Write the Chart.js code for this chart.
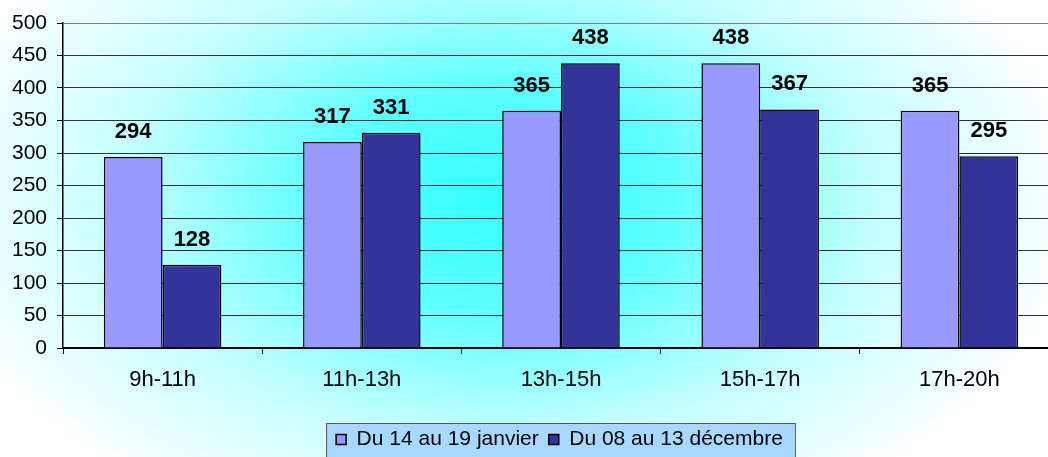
<!DOCTYPE html>
<html>
<head>
<meta charset="utf-8">
<script src="https://cdn.jsdelivr.net/npm/chart.js@4.4.1/dist/chart.umd.min.js"></script>
<style>
  html, body { margin: 0; padding: 0; background: #ffffff; overflow: hidden; }
  #wrap { width: 1048px; height: 457px; overflow: hidden; }
</style>
</head>
<body>
<div id="wrap"><canvas id="horaireChart" width="1108" height="457"></canvas></div>
<script>
const categories = ['9h-11h', '11h-13h', '13h-15h', '15h-17h', '17h-20h'];
const seriesNames = ['Du 14 au 19 janvier', 'Du 08 au 13 décembre'];
const janvier = [294, 317, 365, 438, 365];
const decembre = [128, 331, 438, 367, 295];

const FONT = 'Arial, "Liberation Sans", sans-serif';

// fond dégradé + cadre de la légende
const fondPlugin = {
    id: 'fond',
    afterLayout(chart) {
        // la légende est décalée vers la droite dans l'original
        const lg = chart.legend;
        if (lg) {
            lg.left += 30;
            lg.right += 30;
            lg.top += 3;
            lg.bottom += 3;
        }
    },
    beforeDraw(chart) {
        const ctx = chart.ctx;
        const w = chart.width, h = chart.height;
        ctx.save();
        ctx.fillStyle = '#ffffff';
        ctx.fillRect(0, 0, w, h);
        ctx.translate(500, 200);
        ctx.scale(1, 0.62);
        const g = ctx.createRadialGradient(0, 0, 0, 0, 0, 580);
        g.addColorStop(0, '#33ffff');
        g.addColorStop(0.3, '#5cffff');
        g.addColorStop(0.65, '#c4ffff');
        g.addColorStop(1, '#ffffff');
        ctx.fillStyle = g;
        ctx.fillRect(-800, -800, 1600, 1600);
        ctx.restore();

        const boxes = chart.legend && chart.legend.legendHitBoxes;
        if (boxes && boxes.length) {
            const left = Math.min(...boxes.map(b => b.left)) - 10;
            const right = Math.max(...boxes.map(b => b.left + b.width)) + 12;
            const top = Math.min(...boxes.map(b => b.top)) - 6;
            ctx.save();
            ctx.fillStyle = '#a8d8ff';
            ctx.strokeStyle = '#555555';
            ctx.lineWidth = 1;
            ctx.fillRect(left, top, right - left, h - top + 5);
            ctx.strokeRect(left + 0.5, top + 0.5, right - left, h - top + 5);
            ctx.restore();
        }
    }
};

// valeurs au-dessus des barres
const etiquettesPlugin = {
    id: 'etiquettes',
    afterDatasetsDraw(chart) {
        const ctx = chart.ctx;
        ctx.save();
        ctx.font = 'bold 22px ' + FONT;
        ctx.fillStyle = '#000000';
        ctx.textAlign = 'center';
        ctx.textBaseline = 'alphabetic';
        chart.data.datasets.forEach((ds, i) => {
            chart.getDatasetMeta(i).data.forEach((bar, j) => {
                ctx.fillText(String(ds.data[j]), bar.x, bar.y - 19);
            });
        });
        ctx.restore();
    }
};

const ctx = document.getElementById('horaireChart').getContext('2d');

new Chart(ctx, {
    type: 'bar',
    data: {
        labels: categories,
        datasets: [
            {
                label: seriesNames[0],
                data: janvier,
                backgroundColor: '#9999ff',
                borderColor: '#000000',
                borderWidth: 1.5,
                categoryPercentage: 0.59,
                barPercentage: 1.0
            },
            {
                label: seriesNames[1],
                data: decembre,
                backgroundColor: '#333399',
                borderColor: '#000000',
                borderWidth: 1.5,
                categoryPercentage: 0.59,
                barPercentage: 1.0
            }
        ]
    },
    options: {
        responsive: false,
        animation: false,
        layout: { padding: { top: 23, right: 49, left: 0, bottom: 0 } },
        plugins: {
            legend: {
                position: 'bottom',
                labels: {
                    font: { family: FONT, size: 21 },
                    color: '#000000',
                    boxWidth: 10,
                    boxHeight: 10,
                    padding: 10
                }
            },
            tooltip: { enabled: false }
        },
        scales: {
            x: {
                grid: {
                    display: true,
                    drawOnChartArea: false,
                    drawTicks: true,
                    tickLength: 6,
                    color: '#000000',
                    offset: true
                },
                border: { color: '#000000', width: 2 },
                ticks: {
                    font: { family: FONT, size: 22 },
                    color: '#000000',
                    padding: 13
                },
                afterFit(scale) { scale.height = 68; }
            },
            y: {
                min: 0,
                max: 500,
                ticks: {
                    stepSize: 50,
                    font: { family: FONT, size: 21 },
                    color: '#000000',
                    padding: 10
                },
                grid: {
                    color: ctx2 => ctx2.tick && ctx2.tick.value === 500 ? '#808080' : '#333333',
                    lineWidth: 1,
                    tickLength: 6,
                    tickColor: '#000000'
                },
                border: { color: '#000000', width: 1.5 },
                afterFit(scale) { scale.width = 63; }
            }
        }
    },
    plugins: [fondPlugin, etiquettesPlugin]
});
</script>
</body>
</html>
